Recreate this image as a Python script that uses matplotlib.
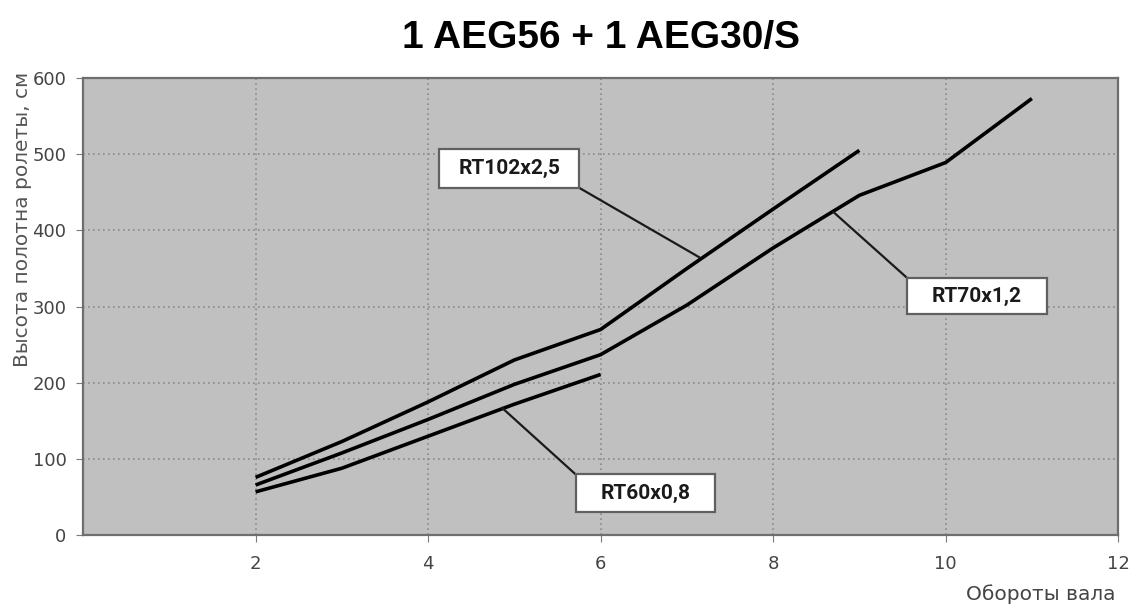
import matplotlib.pyplot as plt
from matplotlib.patches import Rectangle

# data
rt102_x = [2, 3, 4, 5, 6, 7, 8, 9]
rt102_y = [76, 123, 175, 230, 270, 350, 428, 505]

rt70_x = [2, 3, 4, 5, 6, 7, 8, 9, 10, 11]
rt70_y = [66, 108, 152, 198, 237, 302, 377, 446, 489, 573]

rt60_x = [2, 3, 4, 5, 6]
rt60_y = [57, 88, 130, 172, 211]

labels = ["RT102x2,5", "RT70x1,2", "RT60x0,8"]
x_ticks = [2, 4, 6, 8, 10, 12]
y_ticks = [0, 100, 200, 300, 400, 500, 600]


def draw():
    fig = plt.figure(figsize=(11.3, 6.09), dpi=100)
    ax = fig.add_axes([0.0735, 0.121, 0.916, 0.751])
    ax.set_facecolor("#c0c0c0")

    for x, y in [(rt102_x, rt102_y), (rt70_x, rt70_y), (rt60_x, rt60_y)]:
        ax.plot(x, y, color="black", lw=2.6, solid_capstyle="butt", zorder=3)

    ax.set_xlim(0, 12)
    ax.set_ylim(0, 600)
    ax.set_xticks(x_ticks)
    ax.set_yticks(y_ticks)
    ax.grid(True, color="#8a8a8a", linestyle=(0, (1, 2)), lw=1.2)
    ax.tick_params(axis="x", length=5, pad=9, colors="#7a7a7a",
                   labelcolor="#444444", labelsize=13)
    ax.tick_params(axis="y", length=5, pad=7, colors="#7a7a7a",
                   labelcolor="#444444", labelsize=13)
    for s in ax.spines.values():
        s.set_color("#6e6e6e")
        s.set_linewidth(1.6)

    ax.set_ylabel("Высота полотна ролеты, см", fontsize=14.5, color="#555555")
    ax.yaxis.set_label_coords(-0.049, 0.69)
    fig.text(0.987, 0.008, "Обороты вала", fontsize=14.5, color="#444444",
             ha="right", va="bottom")
    fig.text(0.532, 0.937, "1 AEG56 + 1 AEG30/S", fontsize=28,
             fontweight="bold", family="Liberation Sans", ha="center",
             va="center")

    # label boxes: (box x0, y0, w, h), pointer start, pointer end
    boxes = [
        ((4.13, 456, 1.62, 51), (5.75, 456), (7.14, 365)),
        ((9.55, 290, 1.62, 48), (9.55, 338), (8.70, 424)),
        ((5.71, 30, 1.62, 50), (5.71, 80), (4.86, 167)),
    ]
    for text, (rect, p0, p1) in zip(labels, boxes):
        x0, y0, w, h = rect
        ax.plot([p0[0], p1[0]], [p0[1], p1[1]], color="#1a1a1a", lw=1.6,
                zorder=4)
        ax.add_patch(Rectangle((x0, y0), w, h, facecolor="white",
                               edgecolor="#606060", lw=1.6, zorder=5))
        ax.text(x0 + w / 2, y0 + h / 2, text, ha="center", va="center",
                fontsize=15, fontweight="bold", family="Roboto",
                color="#1a1a1a", zorder=6)

    fig.savefig("out.png", dpi=100)


draw()
